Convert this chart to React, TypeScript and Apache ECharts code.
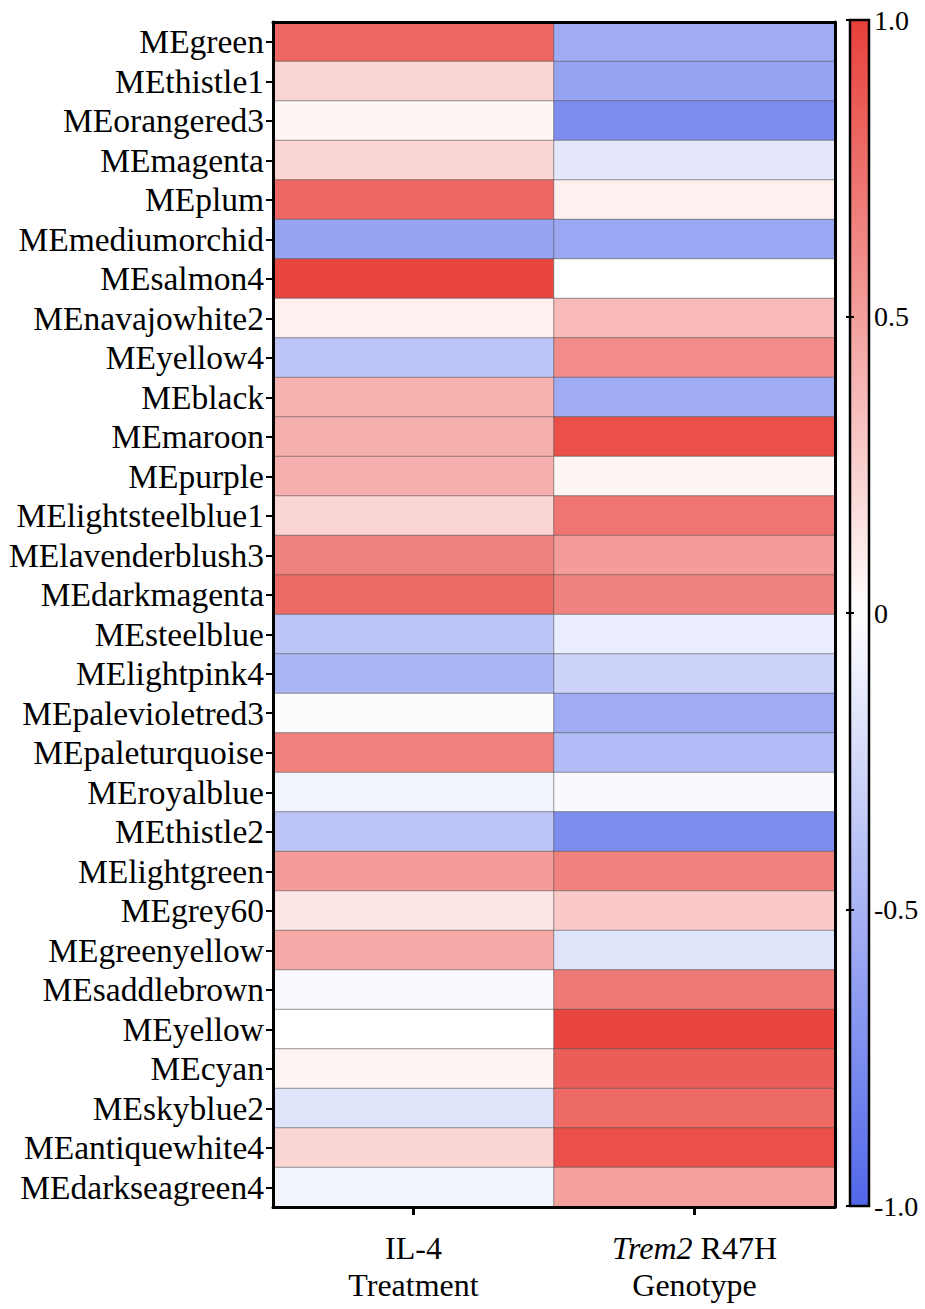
import React, { useEffect, useRef } from "react";
import * as echarts from "echarts";

const MODULES = [
  "MEgreen", "MEthistle1", "MEorangered3", "MEmagenta", "MEplum", "MEmediumorchid",
  "MEsalmon4", "MEnavajowhite2", "MEyellow4", "MEblack", "MEmaroon", "MEpurple",
  "MElightsteelblue1", "MElavenderblush3", "MEdarkmagenta", "MEsteelblue", "MElightpink4",
  "MEpalevioletred3", "MEpaleturquoise", "MEroyalblue", "MEthistle2", "MElightgreen",
  "MEgrey60", "MEgreenyellow", "MEsaddlebrown", "MEyellow", "MEcyan", "MEskyblue2",
  "MEantiquewhite4", "MEdarkseagreen4",
];

const IL4 = [
  0.8, 0.22, 0.05, 0.22, 0.8, -0.6, 0.97, 0.08, -0.38, 0.4,
  0.42, 0.42, 0.22, 0.65, 0.78, -0.38, -0.48, -0.02, 0.66, -0.08,
  -0.38, 0.52, 0.13, 0.45, -0.03, 0.0, 0.06, -0.18, 0.22, -0.08,
];

const TREM2 = [
  -0.55, -0.6, -0.75, -0.15, 0.08, -0.58, 0.0, 0.36, 0.6, -0.55,
  0.92, 0.05, 0.72, 0.52, 0.65, -0.12, -0.28, -0.55, -0.45, -0.03,
  -0.75, 0.66, 0.28, -0.18, 0.7, 0.97, 0.85, 0.78, 0.92, 0.5,
];

const X_LINES = [
  ["IL-4", "Treatment"],
  ["{i|Trem2} R47H", "Genotype"],
];

const SCALE_MIN = -1;
const SCALE_MAX = 1;
const SCALE_STEP = 0.5;
const COLORS = ["#5167e9", "#ffffff", "#e8403a"];

const FONT = '"Liberation Serif", "Times New Roman", serif';

export default function App() {
  const ref = useRef<HTMLDivElement>(null);
  useEffect(() => {
    if (!ref.current) return;
    const chart = echarts.init(ref.current, undefined, { renderer: "svg" });
    const data: number[][] = [];
    MODULES.forEach((_, i) => {
      data.push([0, i, IL4[i]]);
      data.push([1, i, TREM2[i]]);
    });
    const xCats = X_LINES.map((l) => l.join("\n"));
    const frameLine = { show: true, lineStyle: { color: "#000", width: 3 } };
    chart.setOption({
      animation: false,
      backgroundColor: "#fff",
      grid: [
        { left: 273, right: 90, top: 22, bottom: 102, containLabel: false },
        {
          left: 850, width: 19, top: 20, bottom: 103, show: true,
          backgroundColor: new echarts.graphic.LinearGradient(0, 0, 0, 1, [
            { offset: 0, color: COLORS[2] },
            { offset: 0.5, color: COLORS[1] },
            { offset: 1, color: COLORS[0] },
          ]),
          borderColor: "#000", borderWidth: 2.5,
        },
      ],
      xAxis: [
        {
          type: "category", gridIndex: 0, data: xCats, position: "bottom", z: 10,
          axisLine: frameLine,
          axisTick: { show: true, alignWithLabel: true, length: 8, lineStyle: { color: "#000", width: 3 } },
          axisLabel: {
            interval: 0,
            color: "#000", fontFamily: FONT, fontSize: 32, lineHeight: 37, margin: 22,
            rich: { i: { fontStyle: "italic", fontFamily: FONT, fontSize: 32, color: "#000", lineHeight: 37 } },
          },
          splitLine: { show: false },
        },
        {
          type: "category", gridIndex: 0, data: xCats, position: "top", z: 10,
          axisLine: frameLine, axisTick: { show: false }, axisLabel: { show: false },
        },
        { type: "value", gridIndex: 1, show: false, min: 0, max: 1 },
      ],
      yAxis: [
        {
          type: "category", gridIndex: 0, data: MODULES, inverse: true, position: "left", z: 10,
          axisLine: frameLine,
          axisTick: { show: true, interval: 0, alignWithLabel: true, length: 7, lineStyle: { color: "#000", width: 2 } },
          axisLabel: { interval: 0, color: "#000", fontFamily: FONT, fontSize: 33.5, margin: 9 },
          splitLine: { show: false },
        },
        {
          type: "category", gridIndex: 0, data: MODULES, inverse: true, position: "right", z: 10,
          axisLine: frameLine, axisTick: { show: false }, axisLabel: { show: false },
        },
        {
          type: "value", gridIndex: 1, position: "right", min: SCALE_MIN, max: SCALE_MAX, interval: SCALE_STEP, z: 10,
          axisLine: { show: false },
          axisTick: { show: true, inside: true, length: 4, lineStyle: { color: "#000", width: 2 } },
          axisLabel: {
            color: "#000", fontFamily: FONT, fontSize: 28, margin: 5,
            formatter: (v: number) => (v === 0 ? "0" : v.toFixed(1)),
          },
          splitLine: { show: false },
        },
        {
          type: "value", gridIndex: 1, position: "left", min: SCALE_MIN, max: SCALE_MAX, interval: SCALE_STEP, z: 10,
          axisLine: { show: false },
          axisTick: { show: true, inside: true, length: 4, lineStyle: { color: "#000", width: 2 } },
          axisLabel: { show: false },
          splitLine: { show: false },
        },
      ],
      visualMap: {
        show: false, type: "continuous", min: SCALE_MIN, max: SCALE_MAX, dimension: 2, seriesIndex: 0,
        inRange: { color: COLORS },
      },
      series: [
        {
          type: "heatmap", xAxisIndex: 0, yAxisIndex: 0, data,
          itemStyle: { borderColor: "rgba(80,80,80,0.55)", borderWidth: 1 },
          emphasis: { disabled: true },
          label: { show: false },
        },
      ],
    });
    return () => chart.dispose();
  }, []);
  return (
    <div
      ref={ref}
      style={{ position: "fixed", left: 0, top: 0, width: 925, height: 1309 }}
    />
  );
}
